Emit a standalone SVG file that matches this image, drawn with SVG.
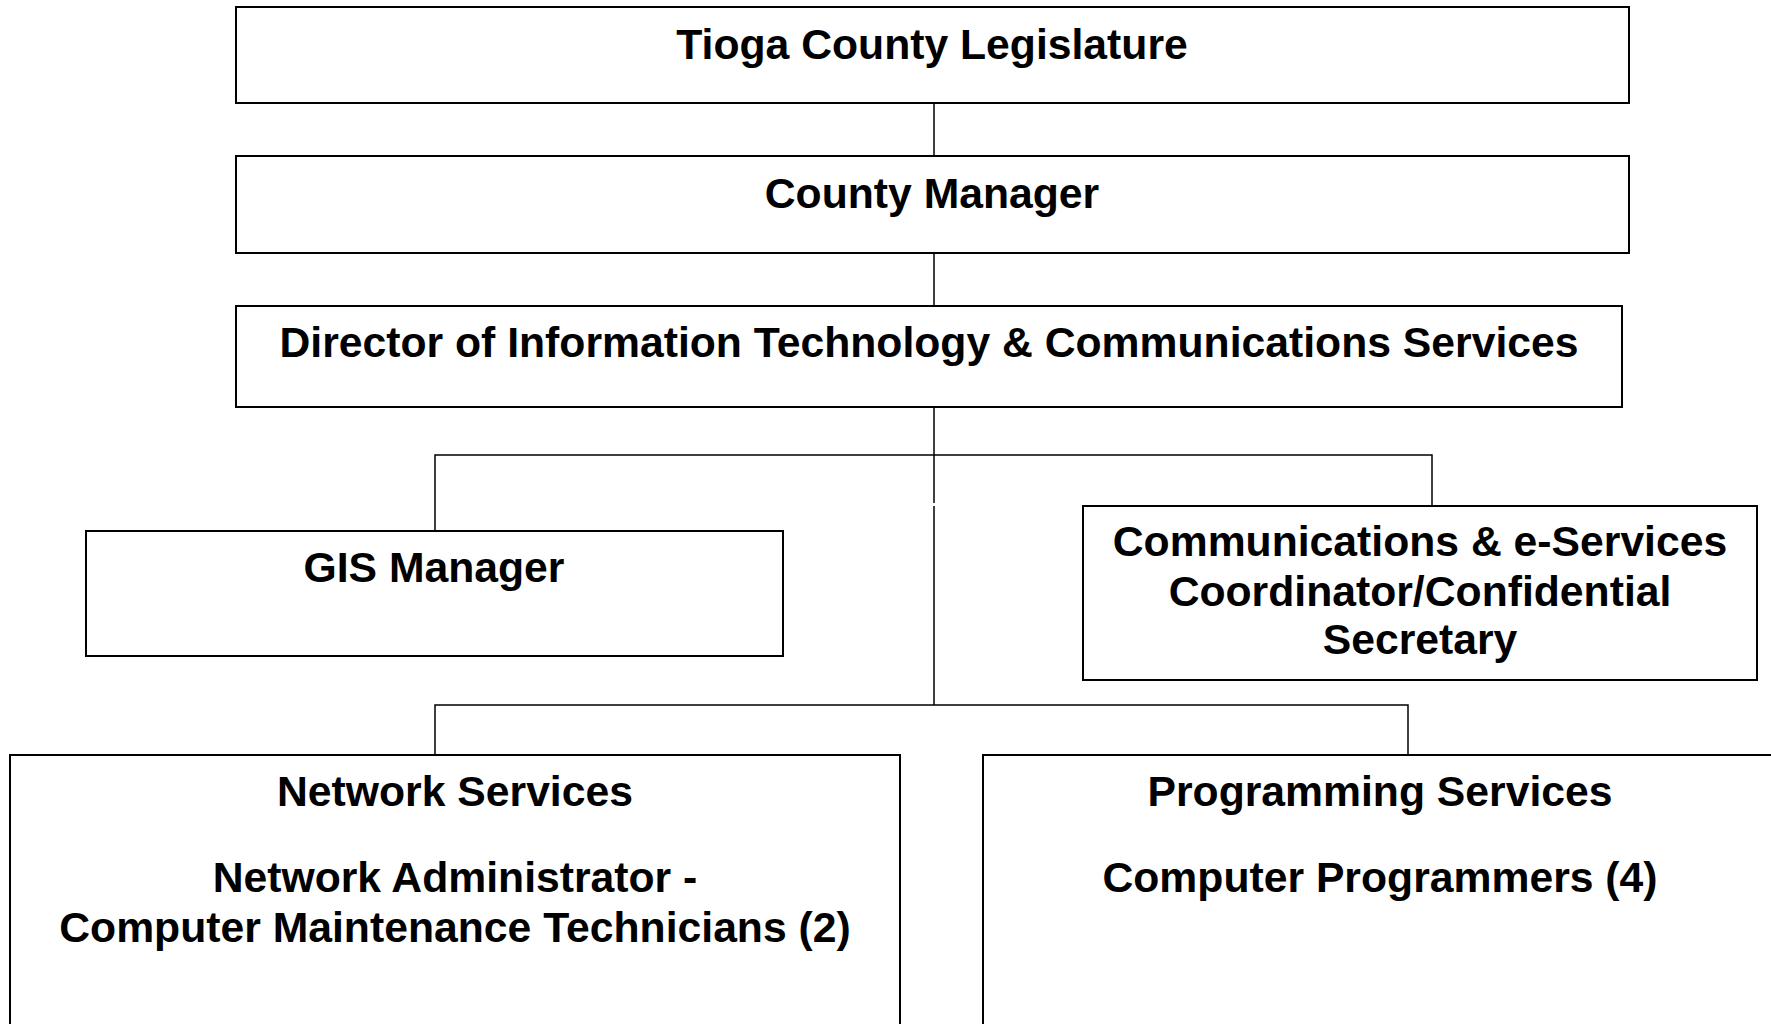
<svg xmlns="http://www.w3.org/2000/svg" width="1771" height="1024" viewBox="0 0 1771 1024">
<style>
.box{fill:#fff;stroke:#000;stroke-width:2}
.t{font-family:"Liberation Sans",Arial,sans-serif;font-weight:bold;font-size:42.7px;fill:#000;text-anchor:middle}
.c{stroke:#000;stroke-width:1.5;fill:none}
</style>
<rect width="1771" height="1024" fill="#fff"/>
<g id="connectors">
<line class="c" x1="934" y1="103" x2="934" y2="156"/>
<line class="c" x1="934" y1="253" x2="934" y2="306"/>
<line class="c" x1="934" y1="407" x2="934" y2="503"/>
<line class="c" x1="934" y1="506" x2="934" y2="705"/>
<polyline class="c" points="435,531 435,455 1432,455 1432,506"/>
<polyline class="c" points="435,755 435,705 1408,705 1408,755"/>
</g>
<g id="legislature">
<rect class="box" x="236" y="7" width="1393" height="96"/>
<text class="t" x="932" y="59">Tioga County Legislature</text>
</g>
<g id="county-manager">
<rect class="box" x="236" y="156" width="1393" height="97"/>
<text class="t" x="932" y="208">County Manager</text>
</g>
<g id="director">
<rect class="box" x="236" y="306" width="1386" height="101"/>
<text class="t" x="929" y="357">Director of Information Technology &amp; Communications Services</text>
</g>
<g id="gis-manager">
<rect class="box" x="86" y="531" width="697" height="125"/>
<text class="t" x="434" y="582">GIS Manager</text>
</g>
<g id="communications">
<rect class="box" x="1083" y="506" width="674" height="174"/>
<text class="t" x="1420" y="556">Communications &amp; e-Services</text>
<text class="t" x="1420" y="606">Coordinator/Confidential</text>
<text class="t" x="1420" y="654">Secretary</text>
</g>
<g id="network-services">
<rect class="box" x="10" y="755" width="890" height="290"/>
<text class="t" x="455" y="806">Network Services</text>
<text class="t" x="455" y="892">Network Administrator -</text>
<text class="t" x="455" y="942">Computer Maintenance Technicians (2)</text>
</g>
<g id="programming-services">
<rect class="box" x="983" y="755" width="800" height="290"/>
<text class="t" x="1380" y="806">Programming Services</text>
<text class="t" x="1380" y="892">Computer Programmers (4)</text>
</g>
</svg>
